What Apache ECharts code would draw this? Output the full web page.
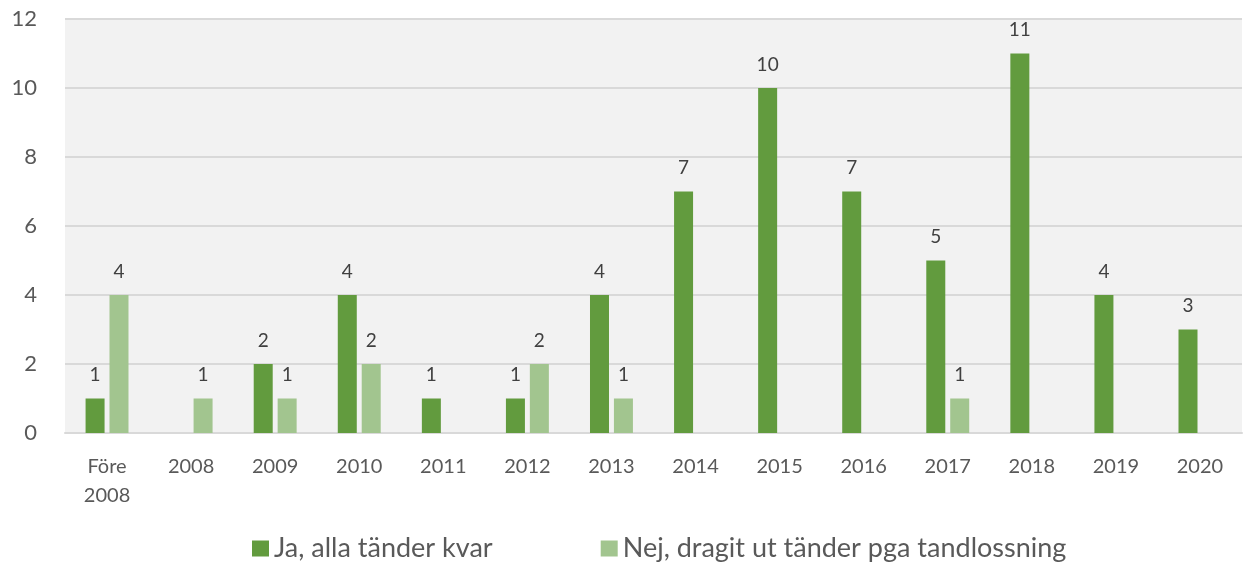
<!DOCTYPE html>
<html>
<head>
<meta charset="utf-8">
<script src="https://cdn.jsdelivr.net/npm/echarts@6/dist/echarts.min.js"></script>
<style>
  html, body { margin: 0; padding: 0; background: #fff; }
  #chart { width: 1246px; height: 563px; }
</style>
</head>
<body>
<div id="chart"></div>
<script>
const categories = ["Före\n2008", "2008", "2009", "2010", "2011", "2012", "2013", "2014", "2015", "2016", "2017", "2018", "2019", "2020"];
const jaValues = [1, 0, 2, 4, 1, 1, 4, 7, 10, 7, 5, 11, 4, 3];
const nejValues = [4, 1, 1, 2, 0, 2, 1, 0, 0, 0, 1, 0, 0, 0];
const seriesNames = ["Ja, alla tänder kvar", "Nej, dragit ut tänder pga tandlossning"];

const FONT = "Lato, 'Open Sans', sans-serif";

const chart = echarts.init(document.getElementById("chart"));

// hide labels of empty bars
const labelFmt = p => (p.value ? String(p.value) : "");

const barLabel = {
  show: true,
  position: "top",
  distance: 14,
  fontFamily: FONT,
  fontSize: 19,
  color: "#404040",
  formatter: labelFmt
};

chart.setOption({
  animation: false,
  grid: { left: 65, right: 4, top: 19, bottom: 130 },
  xAxis: {
    type: "category",
    data: categories,
    axisLine: { show: true, lineStyle: { color: "#d9d9d9", width: 2 } },
    axisTick: { show: false },
    axisLabel: { fontFamily: FONT, fontSize: 20, color: "#595959", margin: 19, lineHeight: 29 }
  },
  yAxis: {
    type: "value",
    min: 0,
    max: 12,
    interval: 2,
    axisLine: { show: false },
    axisTick: { show: false },
    axisLabel: { fontFamily: FONT, fontSize: 22, color: "#595959", margin: 28 },
    splitLine: { lineStyle: { color: "#d9d9d9", width: 2 } },
    splitArea: { show: true, areaStyle: { color: ["#f2f2f2", "#f2f2f2"] } }
  },
  legend: {
    top: 530,
    left: 247,
    itemWidth: 17,
    itemHeight: 16,
    itemGap: 108,
    icon: "rect",
    textStyle: { fontFamily: FONT, fontSize: 27, color: "#595959" },
    data: seriesNames
  },
  series: [
    {
      name: seriesNames[0],
      type: "bar",
      data: jaValues,
      barWidth: 19,
      barGap: "26%",
      itemStyle: { color: "#629b3e" },
      label: barLabel
    },
    {
      name: seriesNames[1],
      type: "bar",
      data: nejValues,
      barWidth: 19,
      itemStyle: { color: "#a2c58f" },
      label: barLabel
    }
  ]
});
</script>
</body>
</html>
